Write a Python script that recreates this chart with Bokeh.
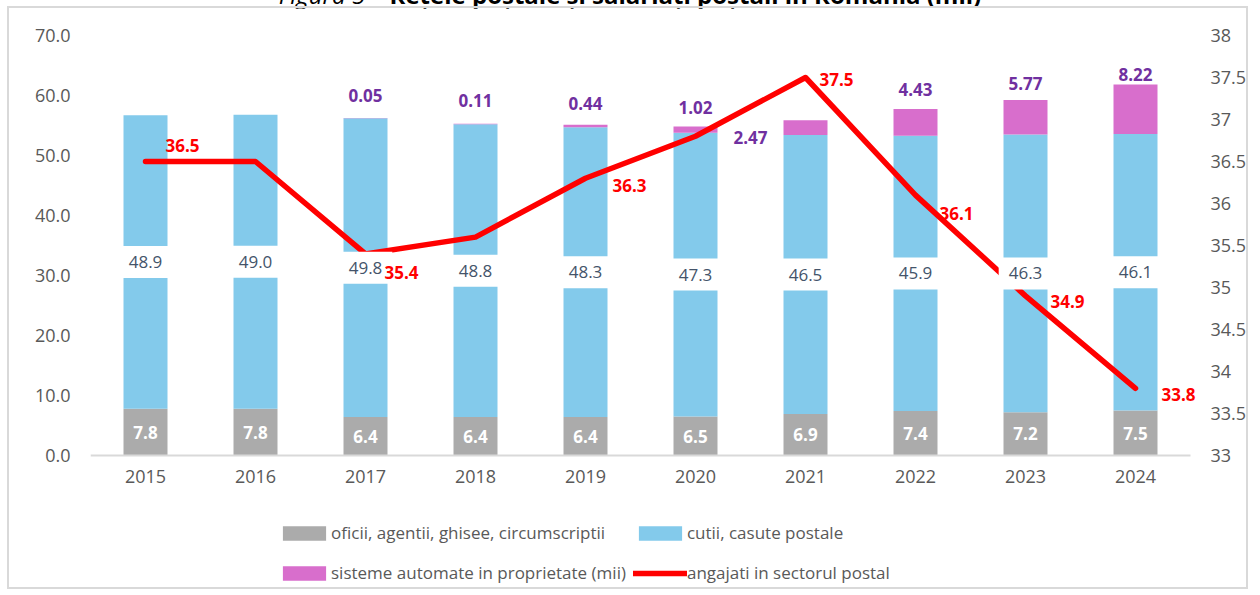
from bokeh.plotting import figure
from bokeh.models import (ColumnDataSource, Range1d, LinearAxis, FixedTicker,
                          NumeralTickFormatter, Legend, LegendItem, Div)
from bokeh.layouts import column
from bokeh.core.properties import value
from bokeh.embed import file_html
from bokeh.resources import INLINE

# ---------------- data ----------------
title_lead = "Figura 5"
title_main = "Rețele poștale și salariați poștali în România (mii)"
years = ["2015", "2016", "2017", "2018", "2019", "2020", "2021", "2022", "2023", "2024"]
oficii = [7.8, 7.8, 6.4, 6.4, 6.4, 6.5, 6.9, 7.4, 7.2, 7.5]
cutii = [48.9, 49.0, 49.8, 48.8, 48.3, 47.3, 46.5, 45.9, 46.3, 46.1]
sisteme = [0, 0, 0.05, 0.11, 0.44, 1.02, 2.47, 4.43, 5.77, 8.22]
angajati = [36.5, 36.5, 35.4, 35.6, 36.3, 36.8, 37.5, 36.1, 34.9, 33.8]
angajati_labelled = [True, False, True, False, True, False, True, True, True, True]
left_ticks = [0, 10, 20, 30, 40, 50, 60, 70]
right_ticks = [33, 33.5, 34, 34.5, 35, 35.5, 36, 36.5, 37, 37.5, 38]
series_names = ["oficii, agentii, ghisee, circumscriptii", "cutii, casute postale",
                "sisteme automate in proprietate (mii)", "angajati in sectorul postal"]

# ---------------- styling / layout ----------------
FONT = "Open Sans"
C_GRAY, C_BLUE, C_PINK, C_RED = "#ABABAB", "#83CAEB", "#D86ECC", "#FF0000"
red_dx = [37, 36, 44, 31, 41, 42, 43]
red_dy = [-16, 19, 7, 2, 18, 6, 6]
pink_dx = [0, 0, 0, 0, -55, 0, 0, 0]
pink_dy = [-23, -23, -21, -19, 17, -20, -16, -10]

W, H = 1241, 583
CAT_PX = 110.0
EXTRA_RIGHT_PX = 14
FL, FR, FT, FB = 81, 60 - EXTRA_RIGHT_PX, 27, 0
PX_PER_LEFT = 6.0
PX_PER_RIGHT = 84.0
BELOW_ZERO_PX = 136
left_start = -BELOW_ZERO_PX / PX_PER_LEFT
right_start = right_ticks[0] - BELOW_ZERO_PX / PX_PER_RIGHT

xi = list(range(len(years)))
src = ColumnDataSource(dict(x=xi, oficii=oficii, cutii=cutii, sisteme=sisteme,
                            angajati=angajati))

p = figure(x_range=Range1d(-0.5, len(years) - 0.5 + EXTRA_RIGHT_PX / CAT_PX),
           y_range=Range1d(left_start, left_ticks[-1]), width=W, height=H,
           output_backend="svg", toolbar_location=None,
           min_border_left=FL, min_border_right=FR, min_border_top=FT, min_border_bottom=FB)
p.extra_y_ranges = {"right": Range1d(right_start, right_ticks[-1])}
p.xgrid.visible = False
p.ygrid.visible = False
p.outline_line_color = None
p.styles = {"border": "2px solid #D9D9D9", "margin-left": "7px"}

bars = p.vbar_stack(["oficii", "cutii", "sisteme"], x="x", width=0.4,
                    color=[C_GRAY, C_BLUE, C_PINK], line_color=None, source=src)

line = p.line(x="x", y="angajati", y_range_name="right", source=src,
              line_color=C_RED, line_width=5.5, line_join="round", line_cap="round")

gray_src = ColumnDataSource(dict(x=xi, y=[v / 2 for v in oficii],
                                 t=["%.1f" % v for v in oficii]))
p.text(x="x", y="y", text="t", source=gray_src, text_align="center", text_baseline="middle",
       text_font=value(FONT), text_font_style="bold", text_font_size="17px", text_color="white")

blue_src = ColumnDataSource(dict(x=xi, y=[a + b / 2 for a, b in zip(oficii, cutii)],
                                 t=["%.1f" % v for v in cutii]))
p.text(x="x", y="y", text="t", source=blue_src, text_align="center", text_baseline="middle",
       text_font=value(FONT), text_font_size="17px", text_color="#44546A",
       background_fill_color="white", padding=10)

pk = [(i, a + b + c, c) for i, a, b, c in zip(xi, oficii, cutii, sisteme) if c > 0]
pink_src = ColumnDataSource(dict(x=[k[0] for k in pk], y=[k[1] for k in pk],
                                 t=["%.2f" % k[2] for k in pk], dx=pink_dx, dy=pink_dy))
p.text(x="x", y="y", text="t", source=pink_src, x_offset="dx", y_offset="dy",
       text_align="center", text_baseline="middle",
       text_font=value(FONT), text_font_style="bold", text_font_size="17px", text_color="#7030A0")

rl = [(i, v) for i, v, f in zip(xi, angajati, angajati_labelled) if f]
red_src = ColumnDataSource(dict(x=[k[0] for k in rl], y=[k[1] for k in rl],
                                t=["%.1f" % k[1] for k in rl], dx=red_dx, dy=red_dy))
p.text(x="x", y="y", text="t", source=red_src, x_offset="dx", y_offset="dy",
       y_range_name="right", text_align="center", text_baseline="middle",
       text_font=value(FONT), text_font_style="bold", text_font_size="17px", text_color=C_RED)

p.yaxis[0].ticker = FixedTicker(ticks=left_ticks)
p.yaxis[0].formatter = NumeralTickFormatter(format="0.0")
ra = LinearAxis(y_range_name="right", ticker=FixedTicker(ticks=right_ticks),
                formatter=NumeralTickFormatter(format="0.[0]"))
p.add_layout(ra, "right")
for ax in [p.yaxis[0], ra]:
    ax.axis_line_color = None
    ax.major_tick_line_color = None
    ax.minor_tick_line_color = None
    ax.major_tick_out = 0
    ax.major_tick_in = 0
    ax.minor_tick_out = 0
    ax.major_label_text_font = FONT
    ax.major_label_text_font_size = "18px"
    ax.major_label_text_color = "#595959"
p.yaxis[0].major_label_standoff = 20
ra.major_label_standoff = 20 - EXTRA_RIGHT_PX

xa = p.xaxis[0]
xa.ticker = FixedTicker(ticks=xi)
xa.major_label_overrides = {i: y for i, y in zip(xi, years)}
xa.fixed_location = 0
xa.bounds = (-0.5, len(years) - 0.5)
xa.axis_line_color = "#D9D9D9"
xa.axis_line_width = 2
xa.major_tick_line_color = None
xa.minor_tick_line_color = None
xa.major_tick_out = 0
xa.major_tick_in = 0
xa.major_label_standoff = 14
xa.major_label_text_font = FONT
xa.major_label_text_font_size = "18px"
xa.major_label_text_color = "#595959"

legend = Legend(items=[LegendItem(label=series_names[0], renderers=[bars[0]]),
                       LegendItem(label=series_names[1], renderers=[bars[1]]),
                       LegendItem(label=series_names[2], renderers=[bars[2]]),
                       LegendItem(label=series_names[3], renderers=[line])],
                orientation="horizontal", ncols=2, location=(187, 2),
                glyph_width=54, glyph_height=18, label_standoff=0, spacing=7,
                label_height=33,
                label_text_font=FONT, label_text_font_size="17px", label_text_color="#595959",
                border_line_color=None, background_fill_alpha=0, padding=0, margin=0)
p.add_layout(legend, "center")

title = Div(text="<i>%s</i> – <b>%s</b>" % (title_lead, title_main), width=1260, height=23,
            styles={"margin-top": "-17px", "margin-bottom": "0px", "margin-left": "0px",
                    "margin-right": "0px", "text-align": "center", "font-family": "Open Sans",
                    "font-size": "24px", "line-height": "24px", "color": "black"})

layout = column(title, p, spacing=0)
open("out.html", "w").write(file_html(layout, INLINE))
